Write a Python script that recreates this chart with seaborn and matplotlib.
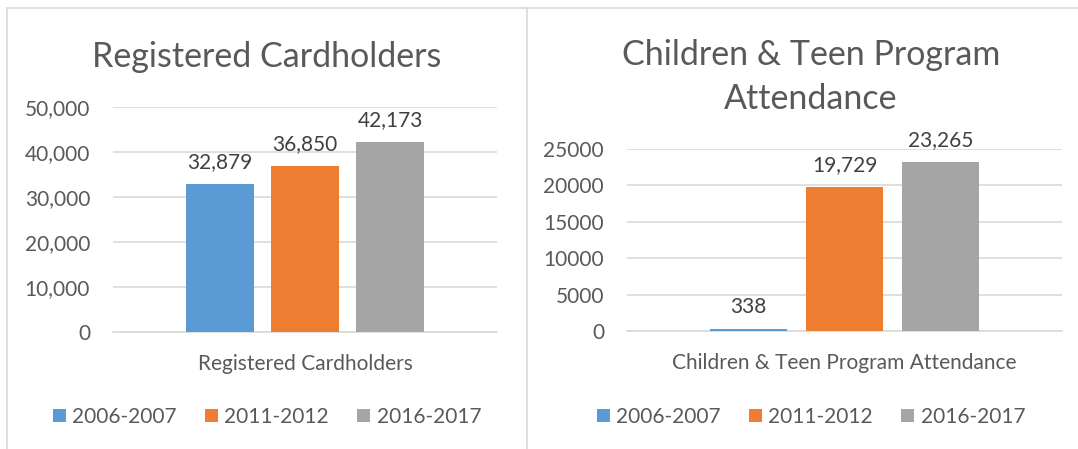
import pandas as pd
import seaborn as sns
import matplotlib.pyplot as plt
from matplotlib.ticker import FuncFormatter

# Data
periods = ["2006-2007", "2011-2012", "2016-2017"]
cardholders = [32879, 36850, 42173]
attendance = [338, 19729, 23265]
colors = ["#5B9BD5", "#ED7D31", "#A5A5A5"]

sns.set_theme(style="white")
plt.rcParams["font.family"] = ["Lato", "DejaVu Sans"]

text_color = "#595959"
grid_color = "#D9D9D9"
W, H = 1078, 449

fig = plt.figure(figsize=(W / 100, H / 100), dpi=100)
fig.patch.set_facecolor("white")

# panel frames
for xs, ys in [([7, 7], [8, H + 5]), ([7, W + 5], [8, 8]), ([527, 527], [8, H + 5])]:
    fig.add_artist(plt.Line2D([x / W for x in xs], [1 - y / H for y in ys],
                              transform=fig.transFigure, color=grid_color, lw=1.2))


def px_axes(left, top, right, bottom):
    return fig.add_axes([left / W, 1 - bottom / H, (right - left) / W, (bottom - top) / H])


ax1 = px_axes(113, 107, 497, 332)
ax2 = px_axes(627, 149, 1062, 331)

panels = [
    (ax1, "Registered Cardholders", cardholders, 50000, 10000, True, 267, 332, 107),
    (ax2, "Children & Teen Program Attendance", attendance, 25000, 5000, False, 811, 331, 149),
]

for ax, name, values, ymax, step, commas, center, bot, top in panels:
    df = pd.DataFrame({"metric": name, "period": periods, "value": values})
    sns.barplot(data=df, x="metric", y="value", hue="period", palette=colors,
                saturation=1, width=0.664, gap=0.2, errorbar=None, linewidth=0, ax=ax)

    for cont, v in zip(ax.containers, values):
        ax.bar_label(cont, labels=[f"{v:,}"], padding=8.5, fontsize=15, color="#404040")
        for bar in cont:
            bar.set_zorder(3)

    ax.set_ylim(0, ymax)
    ax.set_yticks(range(0, ymax + 1, step))
    if commas:
        ax.yaxis.set_major_formatter(FuncFormatter(lambda v, p: f"{int(v):,}"))
    ax.yaxis.grid(True, color=grid_color, lw=1.2)
    ax.set_axisbelow(True)
    for s in ["top", "right", "left"]:
        ax.spines[s].set_visible(False)
    ax.spines["bottom"].set_color(grid_color)
    ax.spines["bottom"].set_linewidth(1.2)
    ax.spines["bottom"].set_zorder(1)
    ax.tick_params(axis="y", length=0, pad=16.5, labelsize=15, labelcolor=text_color)
    ax.tick_params(axis="x", length=0, pad=16, labelsize=15, labelcolor=text_color)
    ax.set_xlabel("")
    ax.set_ylabel("")

    handles, labels = ax.get_legend_handles_labels()
    x_leg = (center - 0) / 1
    x_leg = (center - ax.get_position().x0 * W) / (ax.get_position().width * W)
    y_leg = (bot - 417) / (bot - top)
    ax.legend(handles, labels, ncol=3, loc="center", bbox_to_anchor=(x_leg, y_leg),
              frameon=False, fontsize=15, labelcolor=text_color,
              handlelength=0.63, handleheight=0.63, handletextpad=0.3,
              columnspacing=1.35, borderaxespad=0, borderpad=0)

# titles
fig.text(267 / W, 1 - 67 / H, "Registered Cardholders", ha="center", va="baseline",
         fontsize=24.5, color=text_color)
fig.text(811 / W, 1 - 77 / H, "Children & Teen Program\nAttendance", ha="center",
         va="center", fontsize=24.5, color=text_color, linespacing=1.47)

fig.savefig("out.png", dpi=100)
